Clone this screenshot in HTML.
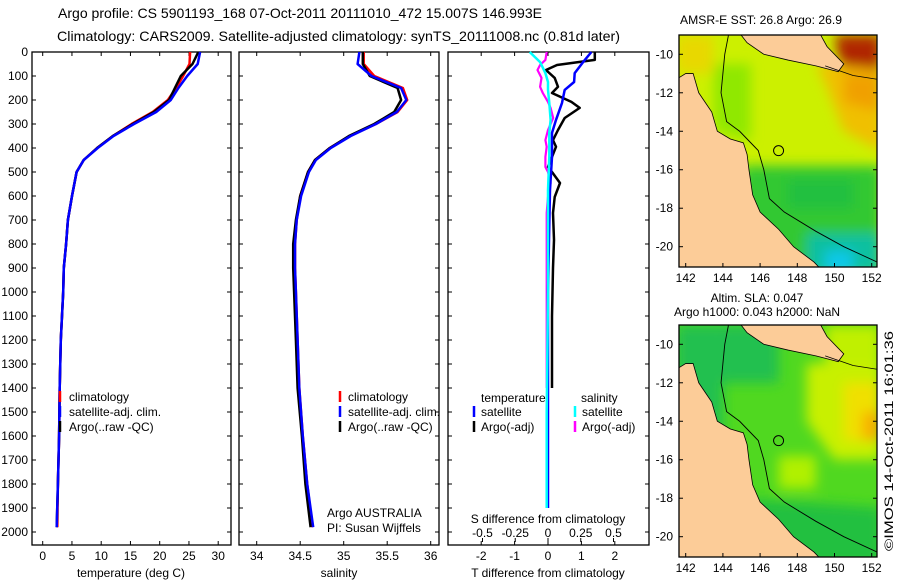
<!DOCTYPE html>
<html><head><meta charset="utf-8">
<style>
html,body{margin:0;padding:0;background:#fff;}
svg{display:block;font-family:"Liberation Sans",sans-serif;}
</style></head>
<body>
<svg id="fig" width="900" height="580" viewBox="0 0 900 580" xmlns="http://www.w3.org/2000/svg">
<defs>
<filter id="blur" x="-10%" y="-10%" width="120%" height="120%"><feGaussianBlur stdDeviation="6"/></filter>
<clipPath id="clipA"><rect x="679" y="35" width="198" height="232"/></clipPath>
<clipPath id="clipB"><rect x="679" y="325" width="198" height="232"/></clipPath>
</defs>
<text x="58" y="18" font-size="14" textLength="484" lengthAdjust="spacingAndGlyphs">Argo profile: CS 5901193_168 07-Oct-2011 20111010_472 15.007S 146.993E</text>
<text x="57" y="41" font-size="14" textLength="563" lengthAdjust="spacingAndGlyphs">Climatology: CARS2009. Satellite-adjusted climatology: synTS_20111008.nc (0.81d later)</text>
<g id="plots"></g>
<text x="680" y="24" font-size="12" textLength="162" lengthAdjust="spacingAndGlyphs">AMSR-E SST: 26.8  Argo: 26.9</text>
<text x="757" y="302" font-size="12" text-anchor="middle">Altim. SLA: 0.047</text>
<text x="757" y="316" font-size="12" text-anchor="middle">Argo h1000: 0.043 h2000: NaN</text>
<text transform="translate(893,441) rotate(-90)" font-size="12" text-anchor="middle" textLength="220" lengthAdjust="spacingAndGlyphs">©IMOS 14-Oct-2011 16:01:36</text>
</svg>
<script>
// ---- profile data ----
const depths = [0,50,100,150,200,250,300,350,400,450,500,600,700,800,900,1000,1200,1400,1600,1800,1980];
const tempArgo = [26.6,25.6,23.6,22.6,21.6,19.0,15.4,12.0,9.3,7.0,5.8,5.0,4.3,4.0,3.6,3.5,3.1,2.9,2.8,2.6,2.4];
const tempClim = [25.2,25.1,24.0,22.8,21.4,18.8,15.2,12.0,9.3,7.0,5.8,5.0,4.3,4.0,3.6,3.5,3.1,2.9,2.8,2.6,2.5];
const tempSat  = [26.9,26.5,24.7,23.2,21.9,19.4,15.6,12.1,9.4,7.0,5.8,5.0,4.3,4.0,3.6,3.5,3.1,2.9,2.8,2.6,2.4];
const salArgo = [35.22,35.22,35.30,35.62,35.66,35.58,35.35,35.06,34.84,34.67,34.59,34.50,34.45,34.42,34.42,34.43,34.45,34.47,34.52,34.56,34.62];
const salClim = [35.23,35.23,35.35,35.68,35.73,35.62,35.37,35.07,34.84,34.67,34.59,34.50,34.46,34.44,34.44,34.45,34.47,34.49,34.53,34.58,34.64];
const salSat  = [35.18,35.16,35.32,35.66,35.72,35.61,35.37,35.08,34.85,34.68,34.60,34.51,34.46,34.44,34.44,34.45,34.47,34.49,34.53,34.58,34.65];
const diffDepths = [0,33,54,75,108,145,171,208,233,275,325,367,395,437,479,500,546,604,671,783,900,1100,1300,1400];
const dTArgo = [1.4,1.4,0.27,-0.06,0.2,0.3,0.12,0.7,0.95,0.5,0.3,0.15,0.24,0.12,0.0,0.12,0.36,0.2,0.15,0.18,0.15,0.12,0.12,0.12];
const dSArgo = [-0.01,-0.02,-0.06,-0.08,-0.05,-0.06,-0.04,0.0,0.02,0.04,0.0,-0.02,-0.01,-0.02,-0.02,0.0,0.02,0.0,-0.01,-0.01,-0.01,-0.01,-0.01,-0.01];
const satDepths = [0,42,88,125,158,212,283,337,437,575,783,1000,1500,1900];
const dTSat = [1.3,1.05,0.8,0.78,0.5,0.42,0.24,0.12,0.12,0.06,0.03,0.0,0.0,0.0];
const dSSat = [-0.14,-0.06,-0.02,0.0,0.0,0.01,0.02,0.01,0.01,0.0,0.0,0.0,-0.01,-0.01];
const depthTicks = [0,100,200,300,400,500,600,700,800,900,1000,1100,1200,1300,1400,1500,1600,1700,1800,1900,2000];
const tempTicks = [0,5,10,15,20,25,30];
const salTicks = [34,34.5,35,35.5,36];
const salTickLabels = ["34","34.5","35","35.5","36"];
const dTTicks = [-2,-1,0,1,2];
const dSTicks = [-0.5,-0.25,0,0.25,0.5];
const dSTickLabels = ["-0.5","-0.25","0","0.25","0.5"];
const latTicks = [-10,-12,-14,-16,-18,-20];
const lonTicks = [142,144,146,148,150,152];

const NS='http://www.w3.org/2000/svg';
const g=document.getElementById('plots');
function el(tag,attrs,parent){const e=document.createElementNS(NS,tag);for(const k in attrs)e.setAttribute(k,attrs[k]);(parent||g).appendChild(e);return e;}
const Y0=52, YS=0.24, BOT=545;
const yD = d => Y0 + d*YS;
const xT = v => 42.7 + v*5.85;
const xS = v => 256.7 + (v-34)*87;
const xDT = v => 548 + v*33.4;
const xDS = v => 548 + v*131;

function frame(x0,x1,name){
  const r=el('rect',{x:x0,y:Y0,width:x1-x0,height:BOT-Y0,fill:'none',stroke:'#000','stroke-width':1.3});
  
  
  depthTicks.forEach(d=>{
    el('line',{x1:x0,x2:x0+4,y1:yD(d),y2:yD(d),stroke:'#000'});
    el('line',{x1:x1-4,x2:x1,y1:yD(d),y2:yD(d),stroke:'#000'});
  });
}
function xticks(vals,fx,labels,name){
  vals.forEach((v,i)=>{
    const x=fx(v);
    el('line',{x1:x,x2:x,y1:BOT,y2:BOT-4,stroke:'#000'});
    el('line',{x1:x,x2:x,y1:Y0,y2:Y0+4,stroke:'#000'});
    const t=el('text',{x:x,y:BOT+15,'font-size':12,'text-anchor':'middle'});
    t.textContent=labels?labels[i]:String(v);
    
    
  });
}
function line(ds,vs,fx,color,name,w){
  const pts=ds.map((d,i)=>fx(vs[i]).toFixed(1)+','+yD(d).toFixed(1)).join(' ');
  const p=el('polyline',{points:pts,fill:'none',stroke:color,'stroke-width':w||2.5,'stroke-linejoin':'round'});
  
  
}
function txt(x,y,s,name,size,anchor){
  const t=el('text',{x:x,y:y,'font-size':size||12,'text-anchor':anchor||'start'});
  t.textContent=s;
  
  
}
function seg(x,y,color,name){
  const l=el('line',{x1:x,x2:x,y1:y-10,y2:y+1,stroke:color,'stroke-width':2.5});
  
  
}

// panel 1 temperature
frame(32,231,'temperature-panel');
depthTicks.forEach(d=>{
  const t=el('text',{x:28,y:yD(d)+4,'font-size':12,'text-anchor':'end'});
  t.textContent=String(d);
  
  
});
xticks(tempTicks,xT,null,'temperature-tick-label');
line(depths,tempClim,xT,'#ff0000','temp-climatology-line');
line(depths,tempArgo,xT,'#000000','temp-argo-line');
line(depths,tempSat,xT,'#0000ff','temp-satellite-line');
txt(131,577,'temperature (deg C)','temperature-axis-title',12,'middle');
seg(60,401,'#ff0000','legend-climatology-marker'); txt(69,401,'climatology','legend-climatology');
seg(60,416,'#0000ff','legend-satellite-marker'); txt(69,416,'satellite-adj. clim.','legend-satellite');
seg(60,431,'#000','legend-argo-marker'); txt(69,431,'Argo(..raw -QC)','legend-argo');

// panel 2 salinity
frame(239,439,'salinity-panel');
xticks(salTicks,xS,salTickLabels,'salinity-tick-label');
line(depths,salClim,xS,'#ff0000','sal-climatology-line');
line(depths,salArgo,xS,'#000000','sal-argo-line');
line(depths,salSat,xS,'#0000ff','sal-satellite-line');
txt(339,577,'salinity','salinity-axis-title',12,'middle');
seg(340,401,'#ff0000','legend2-climatology-marker'); txt(348,401,'climatology','legend2-climatology');
seg(340,416,'#0000ff','legend2-satellite-marker'); txt(348,416,'satellite-adj. clim.','legend2-satellite');
seg(340,431,'#000','legend2-argo-marker'); txt(348,431,'Argo(..raw -QC)','legend2-argo');
txt(327,517,'Argo AUSTRALIA','float-owner-label');
txt(327,532,'PI: Susan Wijffels','pi-label');

// panel 3 differences
frame(448,649,'difference-panel');
dTTicks.forEach(v=>{
  const x=xDT(v);
  el('line',{x1:x,x2:x,y1:BOT,y2:BOT-4,stroke:'#000'});
  el('line',{x1:x,x2:x,y1:Y0,y2:Y0+4,stroke:'#000'});
  const t=el('text',{x:x,y:BOT+15,'font-size':12,'text-anchor':'middle'});
  t.textContent=String(v);
  
  
});
dSTicks.forEach((v,i)=>{
  const x=xDS(v);
  el('line',{x1:x,x2:x,y1:538,y2:542,stroke:'#000'});
  const t=el('text',{x:x,y:537,'font-size':12,'text-anchor':'middle'});
  t.textContent=dSTickLabels[i];
  
  
});
txt(548,523,'S difference from climatology','s-diff-axis-title',12,'middle');
txt(548,577,'T difference from climatology','t-diff-axis-title',12,'middle');
line(diffDepths,dSArgo,xDS,'#ff00ff','s-diff-argo-line',2.2);
line(diffDepths,dTArgo,xDT,'#000000','t-diff-argo-line',2.5);
line(satDepths,dTSat,xDT,'#0000ff','t-diff-satellite-line',2.5);
line(satDepths,dSSat,xDS,'#00ffff','s-diff-satellite-line',2.5);
el('rect',{x:478,y:390,width:66,height:14,fill:'#fff'});
el('rect',{x:578,y:390,width:44,height:14,fill:'#fff'});
txt(481,402,'temperature','legend3-temperature');
txt(581,402,'salinity','legend3-salinity');
seg(474,416,'#0000ff','legend3-t-sat-marker'); txt(481,416,'satellite','legend3-t-sat');
seg(474,431,'#000','legend3-t-argo-marker'); txt(481,431,'Argo(-adj)','legend3-t-argo');
seg(575,416,'#00ffff','legend3-s-sat-marker'); txt(582,416,'satellite','legend3-s-sat');
seg(575,431,'#ff00ff','legend3-s-argo-marker'); txt(582,431,'Argo(-adj)','legend3-s-argo');

// ---- maps ----
const svg=document.getElementById('fig');
const mx = lon => 685.7 + (lon-142)*18.6;
function map(top, blobs, clip, name, ngColor){
  const lat0 = top + 19.3; // y of -10
  const my = lat => lat0 + (-10-lat)*19.24;
  const grp=el('g',{'clip-path':'url(#'+clip+')'},svg);
  
  
  el('rect',{x:679,y:top,width:198,height:232,fill:blobs.base},grp);
  const bg=el('g',{filter:'url(#blur)'},grp);
  blobs.list.forEach(b=>el('polygon',{points:b.p.map(q=>mx(q[0])+','+my(q[1])).join(' '),fill:b.c},bg));
  const land=[[141.5,-11.3],[142.0,-11],[142.4,-11],[142.7,-12],[143.4,-13],[143.7,-14],[144.4,-14.4],[145.1,-14.6],[145.3,-15.2],[145.4,-16],[145.6,-17.3],[146,-18.2],[147,-19.1],[147.8,-20],[148.9,-20.8],[149.3,-21.2],[141.5,-21.2]];
  const lp=el('polygon',{points:land.map(q=>mx(q[0])+','+my(q[1])).join(' '),fill:'#fccc98',stroke:'#000','stroke-width':0.8},grp);
  
  
  const ng=[[144.9,-8.9],[145.3,-9.4],[146.2,-10],[147.5,-10.3],[149,-10.6],[150.2,-10.9],[150.5,-10.5],[149.6,-9.6],[149.2,-8.9]];
  el('polygon',{points:ng.map(q=>mx(q[0])+','+my(q[1])).join(' '),fill:ngColor,stroke:'#000','stroke-width':0.8},grp);
  el('polyline',{points:[[149.5,-10.6],[151,-11.1],[152.3,-11.3]].map(q=>mx(q[0])+','+my(q[1])).join(' '),fill:'none',stroke:'#000','stroke-width':0.8},grp);
  const shelf=[[144.3,-9],[144.1,-10],[143.9,-12],[144.2,-13.5],[144.9,-14],[145.9,-15],[146.2,-16],[146.5,-17.5],[147.3,-18.2],[149,-19.2],[150.5,-20],[152.3,-20.8]];
  el('polyline',{points:shelf.map(q=>mx(q[0])+','+my(q[1])).join(' '),fill:'none',stroke:'#000','stroke-width':0.9},grp);
  el('circle',{cx:mx(146.993),cy:my(-15.007),r:5,fill:'none',stroke:'#000','stroke-width':1},grp);
  const fr=el('rect',{x:679,y:top,width:198,height:232,fill:'none',stroke:'#000','stroke-width':1.3},svg);
  
  
  latTicks.forEach(v=>{
    el('line',{x1:679,x2:683,y1:my(v),y2:my(v),stroke:'#000'},svg);
    el('line',{x1:873,x2:877,y1:my(v),y2:my(v),stroke:'#000'},svg);
    const t=el('text',{x:673,y:my(v)+4,'font-size':12,'text-anchor':'end'},svg);
    t.textContent=String(v);
    
    
  });
  lonTicks.forEach(v=>{
    el('line',{x1:mx(v),x2:mx(v),y1:top+228,y2:top+232,stroke:'#000'},svg);
    const t=el('text',{x:mx(v),y:top+247,'font-size':12,'text-anchor':'middle'},svg);
    t.textContent=String(v);
    
    
  });
}
map(35,{base:'#ccf000',list:[
  {p:[[141.5,-9],[143.5,-9],[143.5,-11],[141.5,-11]],c:'#e8d800'},
  {p:[[149,-10.5],[152.5,-10.5],[152.5,-15],[150.5,-14],[149.5,-11.5]],c:'#f0c000'},
  {p:[[150.5,-11],[152.5,-11],[152.5,-13],[150.5,-12.5]],c:'#f0a000'},
  {p:[[150,-9],[152.5,-9],[152.5,-10.8],[150.3,-10.6]],c:'#b02800'},
  {p:[[143.5,-10.5],[145.5,-10.5],[145.5,-14.5],[143.5,-14]],c:'#90e800'},
  {p:[[145,-15.8],[152.5,-15.8],[152.5,-21.5],[145,-21.5]],c:'#30c830'},
  {p:[[147.5,-16.5],[151,-16.5],[151,-18],[147.5,-18]],c:'#20c040'},
  {p:[[148.5,-19.3],[152.5,-19.3],[152.5,-21.5],[148.5,-21.5]],c:'#10c0a0'},
  {p:[[149.5,-20.2],[151,-20.2],[151,-21.5],[149.5,-21.5]],c:'#10c8e8'}
]},'clipA','sst-map','#fccc98');
map(325,{base:'#50d820',list:[
  {p:[[144,-9],[147,-9],[147,-12],[144,-12]],c:'#20c050'},
  {p:[[148.5,-11],[152.5,-11],[152.5,-16],[150,-16],[148.5,-14]],c:'#c8f000'},
  {p:[[150.5,-12],[152.5,-12],[152.5,-15],[150.5,-15]],c:'#f0e000'},
  {p:[[151.5,-13.5],[152.5,-13.5],[152.5,-15],[151.5,-15]],c:'#f8b000'},
  {p:[[147,-15.8],[149,-15.8],[149,-17.5],[147,-17.5]],c:'#b0f000'},
  {p:[[141.5,-9],[144,-9],[144,-15],[141.5,-15]],c:'#20c050'},
  {p:[[145,-18],[152.5,-18.5],[152.5,-21.5],[145,-21.5]],c:'#20c040'},
  {p:[[149.5,-9],[152.5,-9],[152.5,-11],[149.5,-11]],c:'#c0f000'}
]},'clipB','sla-map','#fccc98');
</script>
</body></html>
